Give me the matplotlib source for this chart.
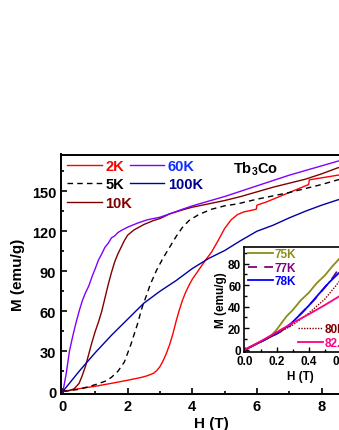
import matplotlib
matplotlib.use("Agg")
import matplotlib.pyplot as plt
from matplotlib.ticker import MultipleLocator

plt.rcParams['font.family'] = ['Liberation Sans', 'DejaVu Sans']
plt.rcParams['font.weight'] = 'bold'
plt.rcParams['mathtext.fontset'] = 'custom'
plt.rcParams['mathtext.rm'] = 'Liberation Sans:bold'
plt.rcParams['mathtext.bf'] = 'Liberation Sans:bold'

# ---------------- main data ----------------
h_2k = [0, 0.5, 1.0, 1.5, 2.0, 2.4, 2.6, 2.8, 2.9, 3.0, 3.1, 3.2, 3.3, 3.4, 3.5, 3.6, 3.7,
        3.8, 3.9, 4.0, 4.2, 4.4, 4.6, 4.8, 5.0, 5.2, 5.4, 5.6, 5.8, 5.98, 6.0, 6.3, 6.6,
        7.0, 7.3, 7.6, 7.62, 8.0, 8.5, 9.2]
m_2k = [0, 2, 3.8, 6, 8.3, 10.3, 11.6, 13.5, 15.5, 18.5, 23, 28.5, 35, 43, 52.5, 61, 68.5,
        74.5, 79.5, 84, 91, 98, 104.5, 113, 122, 128.5, 132.5, 134.5, 135.5, 136.5, 139.5, 142, 145,
        149, 152, 155, 158.5, 160, 162, 164]

h_5k = [0, 0.5, 1.0, 1.3, 1.5, 1.7, 1.9, 2.1, 2.3, 2.45, 2.6, 2.7, 2.9, 3.1, 3.3, 3.5,
        3.7, 3.9, 4.2, 4.6, 5.0, 5.4, 6.0, 6.5, 7.0, 7.5, 8.0, 8.5, 9.2]
m_5k = [0, 1.5, 5, 7.5, 10.5, 15, 22, 35, 50, 63, 73, 80, 91, 100, 108, 116,
        123, 128, 132.5, 136.5, 139, 140.5, 144, 146.5, 149, 152, 155, 158.5, 162]

h_10k = [0, 0.2, 0.35, 0.5, 0.6, 0.7, 0.8, 0.9, 1.0, 1.1, 1.2, 1.3, 1.4, 1.5, 1.6, 1.7,
         1.8, 1.9, 2.0, 2.2, 2.5, 2.8, 3.0, 3.3, 3.7, 4.0, 4.4, 5.0, 5.5, 6.0, 6.5, 7.0,
         7.5, 8.0, 8.5, 9.2]
m_10k = [0, 0.5, 2, 6, 12, 19, 28, 37, 45, 52, 60, 70, 80, 89, 97, 103,
         108, 113, 117, 121, 125, 128, 129.5, 133, 136, 138, 140, 143, 146, 149.5, 153, 156,
         159, 163, 167.5, 172]

h_60k = [0, 0.1, 0.2, 0.3, 0.4, 0.5, 0.6, 0.7, 0.8, 0.9, 1.0, 1.1, 1.2, 1.3, 1.4, 1.5,
         1.6, 1.7, 1.8, 2.0, 2.3, 2.6, 3.0, 3.3, 3.7, 4.0, 4.5, 5.0, 5.5, 6.0, 6.5, 7.0,
         7.5, 8.0, 8.5, 9.2]
m_60k = [0, 13, 30, 41, 51, 60, 68, 74, 79, 86, 92, 98.5, 103, 108, 111, 115,
         116.5, 119, 120.5, 123, 126, 128.5, 130.5, 133, 136.5, 139, 142.5, 146, 150, 154, 158, 162,
         165.5, 169, 172.5, 176]

h_100k = [0, 0.5, 1.0, 1.5, 2.0, 2.5, 3.0, 3.5, 4.0, 4.5, 5.0, 5.5, 6.0, 6.5, 7.0, 7.5,
          8.0, 8.5, 9.2]
m_100k = [0, 15, 29, 42, 54, 66, 75, 83, 92, 99.5, 105.5, 113, 120, 124.5, 130, 135,
          139.5, 143.5, 148]

main_labels = ['2K', '5K', '10K', '60K', '100K']

# ---------------- inset data ----------------
h_75k = [0, 0.05, 0.1, 0.135, 0.17, 0.2, 0.23, 0.26, 0.3, 0.35, 0.4, 0.45, 0.5, 0.55, 0.6, 0.65, 0.7]
m_75k = [0, 4, 7.5, 10, 14, 19, 25, 31, 37, 46, 53, 62, 69, 78, 86, 92, 97]

h_77k = [0, 0.1, 0.2, 0.25, 0.28, 0.32, 0.36, 0.4, 0.45, 0.5, 0.55, 0.6, 0.65, 0.7]
m_77k = [0, 7.5, 15, 19, 22, 29, 35, 41, 49, 58, 67, 78, 86, 94]

h_78k = [0, 0.1, 0.2, 0.26, 0.3, 0.36, 0.4, 0.47, 0.53, 0.6, 0.65, 0.7]
m_78k = [0, 7.5, 15, 21, 26, 34.8, 41, 53, 63, 73, 80, 87]

h_80k = [0, 0.1, 0.2, 0.3, 0.4, 0.5, 0.6, 0.7]
m_80k = [0, 7.5, 15, 23, 34, 47, 65, 80]

h_82k = [0, 0.1, 0.2, 0.3, 0.4, 0.5, 0.6, 0.7]
m_82k = [0, 8, 16.5, 25, 33, 41.5, 50.5, 59]

inset_labels = ['75K', '77K', '78K', '80K', '82.5K']

W, H = 339, 431
fig = plt.figure(figsize=(W / 100, H / 100), dpi=100)


def fx(px):
    return px / W


def fy(py):
    return 1 - py / H


# main axes
x0, x1 = 61, 362
y0, y1 = 155.5, 395
ax = fig.add_axes([fx(x0), fy(y1), (x1 - x0) / W, (y1 - y0) / H])
l1, = ax.plot(h_2k, m_2k, color='#ff0000', lw=1.0)
l2, = ax.plot(h_5k, m_5k, color='black', lw=1.0, ls=(0, (4, 3)))
l3, = ax.plot(h_10k, m_10k, color='#800000', lw=1.0)
l4, = ax.plot(h_60k, m_60k, color='#8000ff', lw=1.0)
l5, = ax.plot(h_100k, m_100k, color='#0000a0', lw=1.0)
ax.set_xlim(-0.06, 9.25)
ax.set_ylim(-2, 177.5)
ax.xaxis.set_major_locator(MultipleLocator(2))
ax.xaxis.set_minor_locator(MultipleLocator(1))
ax.yaxis.set_major_locator(MultipleLocator(30))
ax.yaxis.set_minor_locator(MultipleLocator(15))
ax.tick_params(which='both', direction='in', labelsize=10.5, width=1.2)
ax.tick_params(which='major', length=4.5)
ax.tick_params(which='minor', length=2.5)
for s in ax.spines.values():
    s.set_linewidth(1.4)
ax.set_xlabel('H (T)', fontsize=11, fontweight='bold', labelpad=2)
ax.set_ylabel('M (emu/g)', fontsize=11, fontweight='bold', labelpad=5)

legA = ax.legend([l1, l2, l3], main_labels[:3], loc='upper left',
                 bbox_to_anchor=(fx(66.5), fy(160)), bbox_transform=fig.transFigure,
                 frameon=False, fontsize=10.5, handlelength=2.4, handletextpad=0.27,
                 labelspacing=0.3, borderpad=0, borderaxespad=0)
for t, c in zip(legA.get_texts(), ['#ff0000', 'black', '#800000']):
    t.set_color(c)
ax.add_artist(legA)
legB = ax.legend([l4, l5], main_labels[3:], loc='upper left',
                 bbox_to_anchor=(fx(130), fy(160)), bbox_transform=fig.transFigure,
                 frameon=False, fontsize=10.5, handlelength=2.3, handletextpad=0.3,
                 labelspacing=0.3, borderpad=0, borderaxespad=0)
for t, c in zip(legB.get_texts(), ['#1030ff', '#000090']):
    t.set_color(c)

ax.text(fx(233), fy(169), r'Tb$_\mathbf{3}$Co', transform=fig.transFigure,
        fontsize=10.5, fontweight='bold', va='center', ha='left')

# inset axes
ix0, ix1 = 244, 357.5
iy0, iy1 = 248, 353
ins = fig.add_axes([fx(ix0), fy(iy1), (ix1 - ix0) / W, (iy1 - iy0) / H])
ins.set_facecolor('white')
i1, = ins.plot(h_75k, m_75k, color='#8c8c1a', lw=1.3)
i2, = ins.plot(h_77k, m_77k, color='#800080', lw=1.3, ls=(0, (5, 4)))
i3, = ins.plot(h_78k, m_78k, color='#0000ff', lw=1.3)
i4, = ins.plot(h_80k, m_80k, color='#800000', lw=1.0, ls=(0, (1, 1)))
i5, = ins.plot(h_82k, m_82k, color='#ff0080', lw=1.3)
ins.set_xlim(-0.006, 0.705)
ins.set_ylim(-2.1, 95.5)
ins.xaxis.set_major_locator(MultipleLocator(0.2))
ins.xaxis.set_minor_locator(MultipleLocator(0.1))
ins.yaxis.set_major_locator(MultipleLocator(20))
ins.yaxis.set_minor_locator(MultipleLocator(10))
ins.tick_params(which='both', direction='in', labelsize=8.5, width=1.0, pad=2)
ins.tick_params(which='major', length=3.5)
ins.tick_params(which='minor', length=2)
for s in ins.spines.values():
    s.set_linewidth(1.2)
ins.set_xlabel('H (T)', fontsize=8.5, fontweight='bold', labelpad=2)
ins.set_ylabel('M (emu/g)', fontsize=8.5, fontweight='bold', labelpad=1)

lg1 = ins.legend([i1, i2, i3], inset_labels[:3], loc='upper left',
                 bbox_to_anchor=(fx(248), fy(249.5)), bbox_transform=fig.transFigure,
                 frameon=False, fontsize=8.5, handlelength=2.1, handletextpad=0.15,
                 labelspacing=0.12, borderpad=0, borderaxespad=0)
for t, c in zip(lg1.get_texts(), ['#8c8c1a', '#800080', '#0000ff']):
    t.set_color(c)
ins.add_artist(lg1)
lg2 = ins.legend([i4, i5], inset_labels[3:], loc='upper left',
                 bbox_to_anchor=(fx(298), fy(324.5)), bbox_transform=fig.transFigure,
                 frameon=False, fontsize=8.5, handlelength=2.1, handletextpad=0.15,
                 labelspacing=0.15, borderpad=0, borderaxespad=0)
for t, c in zip(lg2.get_texts(), ['#800000', '#ff0080']):
    t.set_color(c)

fig.savefig('out.png', dpi=100)
